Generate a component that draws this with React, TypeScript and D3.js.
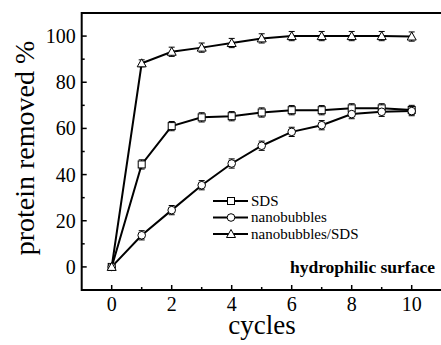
import React from 'react';
import * as d3 from 'd3';

const cycles = [0, 1, 2, 3, 4, 5, 6, 7, 8, 9, 10];
const sds = [0, 44.4, 61, 64.8, 65.3, 66.9, 67.9, 67.9, 68.7, 68.7, 68];
const nanobubbles = [0, 13.7, 24.6, 35.4, 44.8, 52.5, 58.5, 61.4, 66.2, 67.2, 67.5];
const nanoSds = [0, 88.2, 93.2, 95, 97, 99, 100, 100, 100, 100, 99.8];
const sdsErr = [0.5, 2, 2, 2, 2, 2, 2, 2, 2, 2, 2];
const nanoErr = [0.5, 2, 2, 2, 2, 2, 2, 2, 2, 2, 2];
const nanoSdsErr = [0.5, 1.5, 2, 2, 2, 2, 2, 2, 2, 2, 2];
const xTicks = [0, 2, 4, 6, 8, 10];
const yTicks = [0, 20, 40, 60, 80, 100];
const legendLabels = ['SDS', 'nanobubbles', 'nanobubbles/SDS'];

const W = 441;
const H = 345;
const font = 'Liberation Serif';

const x = d3.scaleLinear().domain([-1, 11.6]).range([81.7, 459.7]);
const y = d3.scaleLinear().domain([-10, 110]).range([290, 13]);

type Shape = 'square' | 'circle' | 'triangle';

const Marker = ({ cx, cy, shape }: { cx: number; cy: number; shape: Shape }) => {
  if (shape === 'square')
    return <rect x={cx - 3.5} y={cy - 3.5} width={7} height={7} fill="#fff" stroke="#000" strokeWidth={1} />;
  if (shape === 'circle') return <circle cx={cx} cy={cy} r={3.8} fill="#fff" stroke="#000" strokeWidth={1} />;
  return (
    <path
      d={`M${cx},${cy - 4.5}L${cx + 4.5},${cy + 3.5}L${cx - 4.5},${cy + 3.5}Z`}
      fill="#fff"
      stroke="#000"
      strokeWidth={1}
    />
  );
};

const series = [
  { values: sds, err: sdsErr, shape: 'square' as Shape },
  { values: nanobubbles, err: nanoErr, shape: 'circle' as Shape },
  { values: nanoSds, err: nanoSdsErr, shape: 'triangle' as Shape },
];

const line = d3
  .line<number>()
  .x((_, i) => x(cycles[i]))
  .y(d => y(d));

export default function App() {
  const minorX = d3.range(0, 11, 1).filter(v => !xTicks.includes(v));
  const minorY = d3.range(-10, 110, 10).filter(v => !yTicks.includes(v));
  const left = x(-1);
  const bottom = y(-10);
  const top = y(110);

  return (
    <svg width={W} height={H} style={{ position: 'absolute', left: 0, top: 0, background: '#fff' }}>
      <rect width={W} height={H} fill="#fff" />

      {/* frame */}
      <line x1={left} x2={W} y1={top} y2={top} stroke="#000" strokeWidth={2} />
      <line x1={left} x2={W} y1={bottom} y2={bottom} stroke="#000" strokeWidth={2} />
      <line x1={left} x2={left} y1={top - 1} y2={bottom + 1} stroke="#000" strokeWidth={2} />

      {/* x ticks */}
      {xTicks.map(t => (
        <g key={'xt' + t}>
          <line x1={x(t)} x2={x(t)} y1={bottom} y2={bottom - 5} stroke="#000" strokeWidth={1.5} />
          <text x={x(t)} y={bottom + 21} textAnchor="middle" fontFamily={font} fontSize={20}>
            {t}
          </text>
        </g>
      ))}
      {minorX.map(t => (
        <line key={'xm' + t} x1={x(t)} x2={x(t)} y1={bottom} y2={bottom - 3} stroke="#000" strokeWidth={1.5} />
      ))}

      {/* y ticks */}
      {yTicks.map(t => (
        <g key={'yt' + t}>
          <line x1={left} x2={left + 5} y1={y(t)} y2={y(t)} stroke="#000" strokeWidth={1.5} />
          <text x={left - 6} y={y(t) + 7} textAnchor="end" fontFamily={font} fontSize={20}>
            {t}
          </text>
        </g>
      ))}
      {minorY.map(t => (
        <line key={'ym' + t} x1={left} x2={left + 3} y1={y(t)} y2={y(t)} stroke="#000" strokeWidth={1.5} />
      ))}

      {/* axis titles */}
      <text x={262} y={334} textAnchor="middle" fontFamily={font} fontSize={27}>
        cycles
      </text>
      <text transform="translate(34,148) rotate(-90)" textAnchor="middle" fontFamily={font} fontSize={28}>
        protein removed %
      </text>

      {/* series */}
      {series.map((s, si) => (
        <g key={'s' + si}>
          <path d={line(s.values) || ''} fill="none" stroke="#000" strokeWidth={2} />
          {s.values.map((v, i) => {
            const cx = x(cycles[i]);
            const lo = y(v - s.err[i]);
            const hi = y(v + s.err[i]);
            return (
              <g key={i}>
                <line x1={cx} x2={cx} y1={lo} y2={hi} stroke="#000" strokeWidth={1} />
                <line x1={cx - 3} x2={cx + 3} y1={lo} y2={lo} stroke="#000" strokeWidth={1} />
                <line x1={cx - 3} x2={cx + 3} y1={hi} y2={hi} stroke="#000" strokeWidth={1} />
              </g>
            );
          })}
        </g>
      ))}
      {series.map((s, si) =>
        s.values.map((v, i) => <Marker key={`m${si}-${i}`} cx={x(cycles[i])} cy={y(v)} shape={s.shape} />)
      )}

      {/* legend */}
      {legendLabels.map((lab, i) => {
        const ly = 201 + i * 16.5;
        return (
          <g key={lab}>
            <line x1={213} x2={248} y1={ly} y2={ly} stroke="#000" strokeWidth={2} />
            <Marker cx={231} cy={ly} shape={series[i].shape} />
            <text x={251} y={ly + 4.5} fontFamily={font} fontSize={15}>
              {lab}
            </text>
          </g>
        );
      })}

      <text x={435} y={273} textAnchor="end" fontFamily={font} fontSize={17.5} fontWeight="bold">
        hydrophilic surface
      </text>
    </svg>
  );
}
